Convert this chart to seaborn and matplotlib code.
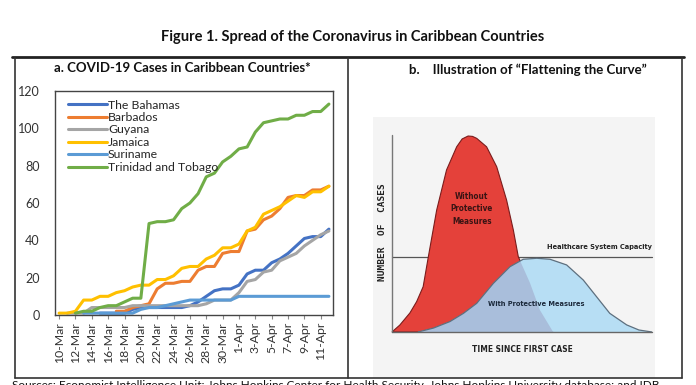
import numpy as np
import pandas as pd
import matplotlib
matplotlib.use("Agg")
import matplotlib.pyplot as plt
import seaborn as sns

# --- data: cumulative COVID-19 cases, 10-Mar .. 12-Apr ---
dates = ['10-Mar', '11-Mar', '12-Mar', '13-Mar', '14-Mar', '15-Mar', '16-Mar', '17-Mar',
         '18-Mar', '19-Mar', '20-Mar', '21-Mar', '22-Mar', '23-Mar', '24-Mar', '25-Mar',
         '26-Mar', '27-Mar', '28-Mar', '29-Mar', '30-Mar', '31-Mar', '1-Apr', '2-Apr',
         '3-Apr', '4-Apr', '5-Apr', '6-Apr', '7-Apr', '8-Apr', '9-Apr', '10-Apr',
         '11-Apr', '12-Apr']
nan = np.nan
bahamas = [nan] * 5 + [1, 1, 1, 1, 3, 4, 4, 4, 4, 4, 4, 5, 7, 10, 13, 14, 14, 16, 22, 24,
                       24, 28, 30, 33, 37, 41, 42, 42, 46]
barbados = [nan] * 7 + [2, 2, 4, 5, 6, 14, 17, 17, 18, 18, 24, 26, 26, 33, 34, 34, 45, 46,
                        51, 53, 57, 63, 64, 64, 67, 67, 69]
guyana = [nan] + [1, 1, 1, 4, 4, 4, 4, 4, 5, 5, 5, 5, 5, 5, 5, 5, 5, 6, 8, 8, 8, 12, 18,
                  19, 23, 24, 29, 31, 33, 37, 40, 43, 45]
jamaica = [1, 1, 2, 8, 8, 10, 10, 12, 13, 15, 16, 16, 19, 19, 21, 25, 26, 26, 30, 32, 36,
           36, 38, 45, 47, 54, 56, 58, 61, 64, 63, 66, 66, 69]
suriname = [nan] * 3 + [1, 1, 1, 1, 1, 1, 1, 3, 4, 4, 5, 6, 7, 8, 8, 8, 8, 8, 8, 10, 10,
                        10, 10, 10, 10, 10, 10, 10, 10, 10, 10]
trinidad = [nan] * 2 + [1, 2, 2, 4, 5, 5, 7, 9, 9, 49, 50, 50, 51, 57, 60, 65, 74, 76, 82,
                        85, 89, 90, 98, 103, 104, 105, 105, 107, 107, 109, 109, 113]
countries = ['The Bahamas', 'Barbados', 'Guyana', 'Jamaica', 'Suriname', 'Trinidad and Tobago']
colors = ['#4472C4', '#ED7D31', '#A5A5A5', '#FFC000', '#5B9BD5', '#70AD47']

# --- illustration curves ---
red_t = [0, 3, 6.9, 9.5, 12.0, 14.0, 17.2, 21.0, 24.9, 27, 29.3, 31, 32.6, 36.4, 40.3,
         44.1, 46.7, 48.6, 53.1, 56.9, 62.0]
red_c = [0, 3.5, 9.7, 15.5, 23.1, 38.4, 62.2, 82.7, 94.5, 98.5, 100, 99.8, 98.8, 94.5,
         84.3, 67.3, 52.0, 38.4, 25.0, 11.2, 0]
blue_t = [10.1, 16, 22.3, 27.5, 32.6, 39.0, 45.4, 50.5, 55.7, 60.8, 67.2, 73.6, 78.7,
          83.8, 90.3, 95, 99.9]
blue_c = [0, 2.0, 5.3, 9.5, 14.6, 24.8, 33.3, 37.1, 37.6, 37.1, 34.2, 26.5, 18.0, 9.5,
          3.6, 1.0, 0]
capacity = 38.3

sns.set_style("white")
plt.rcParams['font.family'] = ['Lato', 'DejaVu Sans']

W, H = 696, 385
fig = plt.figure(figsize=(W / 100, H / 100), dpi=100)


def fx(x):
    return x / W


def fy(y):
    return 1 - y / H


# --- left panel: line chart ---
frames = []
for name, vals in zip(countries, [bahamas, barbados, guyana, jamaica, suriname, trinidad]):
    frames.append(pd.DataFrame({'day': np.arange(len(dates)), 'cases': vals, 'country': name}))
df = pd.concat(frames).dropna()

ax = fig.add_axes([fx(55), fy(315), fx(333) - fx(55), fy(91) - fy(315)])
sns.lineplot(data=df, x='day', y='cases', hue='country', hue_order=countries,
             palette=colors, linewidth=2.2, ax=ax)
ax.set_xlim(-0.5, len(dates) - 0.5)
ax.set_ylim(0, 120)
ax.set_yticks(range(0, 121, 20))
ax.set_xticks(range(0, len(dates), 2))
ax.set_xticklabels(dates[::2], rotation=90, fontsize=8.8, color='#333333')
ax.tick_params(axis='y', labelsize=9, labelcolor='#333333', length=0, pad=11)
ax.tick_params(axis='x', length=3, color='#888888', pad=2, bottom=True)
ax.set_xlabel('')
ax.set_ylabel('')
for s in ax.spines.values():
    s.set_color('#444444')
    s.set_linewidth(1.0)
h, l = ax.get_legend_handles_labels()
ax.legend(h, l, loc='upper left', bbox_to_anchor=(0.015, 1.0), frameon=False,
          fontsize=8.8, handlelength=3.2, handletextpad=0.1, labelspacing=0.12,
          borderaxespad=0.3)

# --- right panel: flattening the curve illustration ---
ax2 = fig.add_axes([fx(373), fy(378), fx(655) - fx(373), fy(117) - fy(378)])
ax2.set_xlim(-7.3, 101.2)
ax2.set_ylim(-23.5, 109.7)
ax2.set_facecolor('#f4f4f4')
ax2.set_xticks([])
ax2.set_yticks([])
for s in ax2.spines.values():
    s.set_visible(False)

ax2.plot([0, 100], [capacity, capacity], color='#555555', lw=0.9, zorder=1.5)
red_patch = ax2.fill(red_t, red_c, color='#e4413a', ec='#7a1c1c', lw=0.8, zorder=2)[0]
ax2.fill(blue_t, blue_c, color='#b7def4', lw=0, zorder=3)
overlap = ax2.fill(blue_t, blue_c, color='#a9bedb', lw=0, zorder=4)[0]
overlap.set_clip_path(red_patch)
ax2.plot(blue_t, blue_c, color='#5d6f7e', lw=0.9, zorder=5)
ax2.plot([0, 0], [0, 100.5], color='#777777', lw=1.0, zorder=6)
ax2.plot([0, 100], [0, 0], color='#666666', lw=1.0, zorder=6)

cond = dict(family='DejaVu Sans', fontstretch='condensed', fontweight='bold')
ax2.text(30.7, 62.8, 'Without\nProtective\nMeasures', ha='center', va='center',
         fontsize=5.9, color='#3a1414', linespacing=1.55, zorder=7, **cond)
ax2.text(55.4, 14.3, 'With Protective Measures', ha='center', va='center',
         fontsize=5.3, color='#1c2a3c', zorder=7, **cond)
ax2.text(100, 43.4, 'Healthcare System Capacity', ha='right', va='center',
         fontsize=5.3, color='#222222', zorder=7, **cond)
ax2.text(50, -8.7, 'TIME SINCE FIRST CASE', ha='center', va='center',
         fontsize=6.0, color='#222222', **cond)
ax2.text(-3.8, 51, 'NUMBER  OF  CASES', ha='center', va='center', rotation=90,
         fontsize=6.8, fontweight='bold', color='#222222', family='DejaVu Sans Mono')

# --- titles, frames, source ---
fig.text(fx(353), fy(37), 'Figure 1. Spread of the Coronavirus in Caribbean Countries',
         ha='center', va='center', fontsize=10.5, fontweight='bold', color='#111111')
fig.text(fx(182), fy(68), 'a. COVID-19 Cases in Caribbean Countries*',
         ha='center', va='center', fontsize=9.5, fontweight='bold', color='#111111')
fig.text(fx(528), fy(70), 'b.    Illustration of \u201cFlattening the Curve\u201d',
         ha='center', va='center', fontsize=9.5, fontweight='bold', color='#111111')

line_kw = dict(transform=fig.transFigure, color='#333333', lw=1.2)
fig.add_artist(plt.Line2D([fx(12), fx(684)], [fy(57), fy(57)], lw=2.0, color='#222222',
                          transform=fig.transFigure))
fig.add_artist(plt.Line2D([fx(15), fx(15)], [fy(58), fy(378)], **line_kw))
fig.add_artist(plt.Line2D([fx(348), fx(348)], [fy(58), fy(378)], **line_kw))
fig.add_artist(plt.Line2D([fx(682), fx(682)], [fy(58), fy(378)], **line_kw))
fig.add_artist(plt.Line2D([fx(15), fx(682)], [fy(378), fy(378)], **line_kw))

fig.text(fx(12), fy(380), 'Sources: Economist Intelligence Unit; Johns Hopkins Center for '
         'Health Security, Johns Hopkins University database; and IDB',
         ha='left', va='top', fontsize=8.5, color='#111111')

fig.savefig('out.png', dpi=100)
